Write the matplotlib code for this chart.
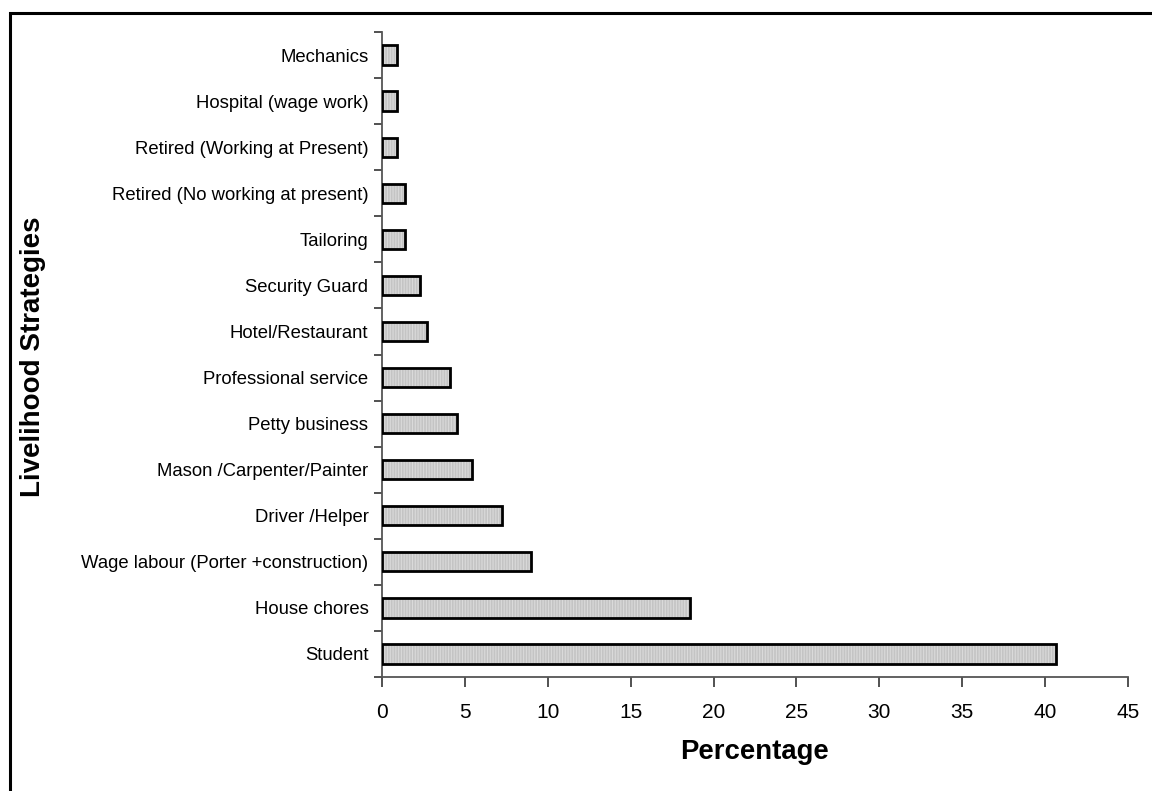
import matplotlib
matplotlib.use("Agg")
import matplotlib.pyplot as plt
from matplotlib.patches import Rectangle
import numpy as np

plt.rcParams['font.family'] = ['Liberation Sans', 'DejaVu Sans']
plt.rcParams['hatch.linewidth'] = 0.8

categories = [
    "Student",
    "House chores",
    "Wage labour (Porter +construction)",
    "Driver /Helper",
    "Mason /Carpenter/Painter",
    "Petty business",
    "Professional service",
    "Hotel/Restaurant",
    "Security Guard",
    "Tailoring",
    "Retired (No working at present)",
    "Retired (Working at Present)",
    "Hospital (wage work)",
    "Mechanics",
]
percentages = [40.7, 18.6, 9.0, 7.2, 5.4, 4.5, 4.1, 2.7, 2.3, 1.4, 1.4, 0.9, 0.9, 0.9]
x_ticks = [0, 5, 10, 15, 20, 25, 30, 35, 40, 45]

W, H = 1152, 791
fig = plt.figure(figsize=(W / 100, H / 100), dpi=100)

# outer frame of the figure
fig.patches.append(Rectangle((9.5 / W, -0.1), 1.2, (H - 12.5) / H + 0.1,
                             transform=fig.transFigure, fill=False,
                             edgecolor='black', linewidth=2.2, zorder=0))

ax = fig.add_axes([382.3 / W, 1 - 677 / H, (1127.7 - 382.3) / W, (677 - 32) / H])

y = np.arange(len(categories))
# textured grey fill, then a black outline on top
ax.barh(y, percentages, height=0.42, facecolor='#c4c4c4', edgecolor='#dadada',
        linewidth=0, hatch='||||||', zorder=3)
ax.barh(y, percentages, height=0.42, fill=False, edgecolor='black',
        linewidth=2.0, zorder=4)

ax.set_xlim(0, 45)
ax.set_ylim(-0.5, len(categories) - 0.5)
ax.set_xticks(x_ticks)
ax.set_xticklabels([str(t) for t in x_ticks], fontsize=15)

ax.set_yticks(y)
ax.set_yticklabels(categories, fontsize=13.3)
ax.set_yticks(np.arange(-0.5, len(categories)), minor=True)
ax.tick_params(axis='y', which='major', length=0, pad=10)
ax.tick_params(axis='y', which='minor', length=6, width=1.2, color='#333333', direction='out')
ax.tick_params(axis='x', which='major', length=7, width=1.2, color='#333333', pad=12)

for side in ('top', 'right'):
    ax.spines[side].set_visible(False)
for side in ('left', 'bottom'):
    ax.spines[side].set_color('#555555')
    ax.spines[side].set_linewidth(1.3)

fig.text(755 / W, 1 - 752 / H, "Percentage", fontsize=19.8, fontweight='bold',
         ha='center', va='center')
fig.text(33 / W, 1 - 357 / H, "Livelihood Strategies", fontsize=20, fontweight='bold',
         ha='center', va='center', rotation=90)

fig.savefig("out.png", dpi=100)
